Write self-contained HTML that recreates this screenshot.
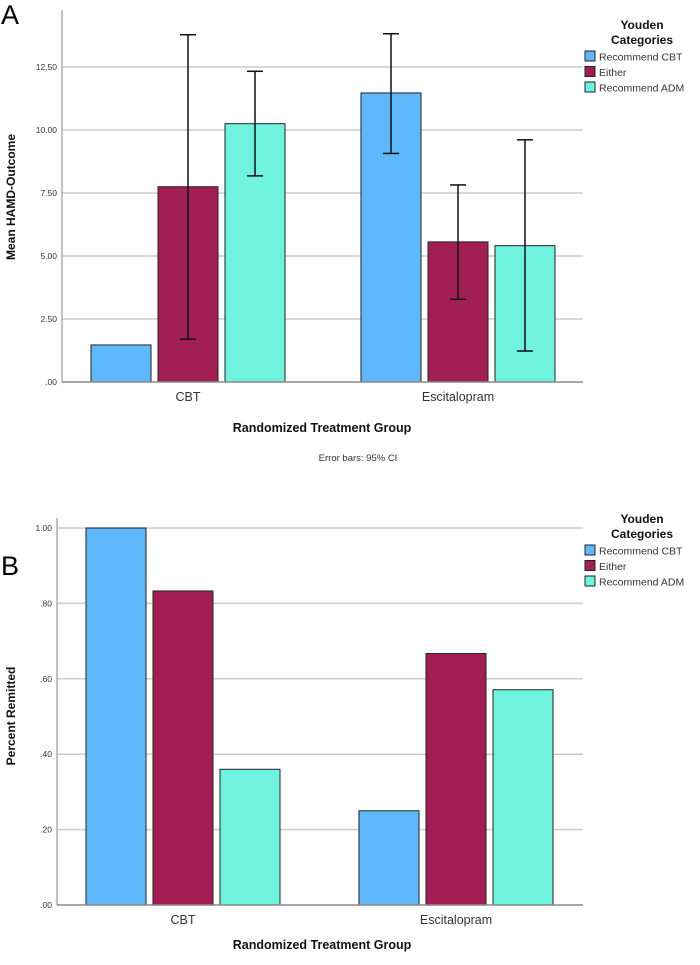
<!DOCTYPE html>
<html><head><meta charset="utf-8"><style>
body{margin:0;background:#fff;width:700px;height:960px;overflow:hidden}
svg{font-family:"Liberation Sans",sans-serif}
</style></head><body>
<svg id="s" width="700" height="960" xmlns="http://www.w3.org/2000/svg"></svg>
<script>
const categories = ["CBT", "Escitalopram"];
const seriesNames = ["Recommend CBT", "Either", "Recommend ADM"];
const colors = ["#5eb8fb", "#a11f54", "#6ff3de"];
const aValues = [[1.47, 11.47], [7.75, 5.56], [10.25, 5.41]];
const aErrLow = [[null, 9.07], [1.70, 3.28], [8.18, 1.23]];
const aErrHigh = [[null, 13.82], [13.78, 7.82], [12.33, 9.61]];
const aTicks = [0, 2.5, 5, 7.5, 10, 12.5];
const aTickLabels = [".00", "2.50", "5.00", "7.50", "10.00", "12.50"];
const bValues = [[1.00, 0.25], [0.833, 0.667], [0.36, 0.571]];
const bTicks = [0, 0.2, 0.4, 0.6, 0.8, 1.0];
const bTickLabels = [".00", ".20", ".40", ".60", ".80", "1.00"];

const NS = "http://www.w3.org/2000/svg";
const svg = document.getElementById("s");
function mk(tag, attrs, parent, text) {
  const e = document.createElementNS(NS, tag);
  for (const k in attrs) e.setAttribute(k, attrs[k]);
  if (text !== undefined) e.textContent = text;
  (parent || svg).appendChild(e);
  return e;
}
function panel(cfg) {
  const g = mk("g", {});
  
  
  const y = v => cfg.base - (v - 0) * cfg.ppu;
  // gridlines + ticks
  cfg.ticks.forEach((t, i) => {
    if (t > 0) {
      const gl = mk("line", {x1: cfg.x0, x2: cfg.x1, y1: y(t), y2: y(t), stroke: "#cccccc", "stroke-width": 1.5}, g);
      
      
    }
    const tl = mk("text", {x: cfg.x0 - 5, y: y(t) + 3, "text-anchor": "end", "font-size": 8.5, fill: "#333"}, g, cfg.tickLabels[i]);
    
    
  });
  const ya = mk("line", {x1: cfg.x0, x2: cfg.x0, y1: cfg.top, y2: cfg.base, stroke: "#999", "stroke-width": 1.2}, g);
  
  
  // bars
  const bw = 60, gap = 7;
  categories.forEach((c, ci) => {
    const cx = cfg.centers[ci];
    cfg.values.forEach((sv, si) => {
      const left = cx - 1.5 * bw - gap + si * (bw + gap);
      const v = sv[ci];
      const r = mk("rect", {x: left, y: y(v), width: bw, height: cfg.base - y(v), fill: colors[si], stroke: "#222", "stroke-width": 1}, g);
      
      
      if (cfg.lo && cfg.lo[si][ci] !== null) {
        const mx = left + bw / 2, lo = y(cfg.lo[si][ci]), hi = y(cfg.hi[si][ci]);
        const eg = mk("g", {stroke: "#111", "stroke-width": 1.5}, g);
        
        
        mk("line", {x1: mx, x2: mx, y1: lo, y2: hi}, eg);
        mk("line", {x1: mx - 8, x2: mx + 8, y1: lo, y2: lo}, eg);
        mk("line", {x1: mx - 8, x2: mx + 8, y1: hi, y2: hi}, eg);
      }
    });
    const cl = mk("text", {x: cx, y: cfg.base + 19, "text-anchor": "middle", "font-size": 12.5, fill: "#333"}, g, c);
    
    
  });
  const xa = mk("line", {x1: cfg.x0, x2: cfg.x1, y1: cfg.base, y2: cfg.base, stroke: "#888", "stroke-width": 1.5}, g);
  
  
  const xt = mk("text", {x: 322, y: cfg.xTitleY, "text-anchor": "middle", "font-size": 12.5, "font-weight": "bold", fill: "#111"}, g, "Randomized Treatment Group");
  
  
  const ytl = mk("text", {x: 0, y: 0, transform: `translate(15,${cfg.yTitleY}) rotate(-90)`, "text-anchor": "middle", "font-size": 12, "font-weight": "bold", fill: "#111"}, g, cfg.yTitle);
  
  
  // legend
  const lg = mk("g", {}, g);
  
  
  mk("text", {x: 642, y: cfg.legY, "text-anchor": "middle", "font-size": 12, "font-weight": "bold", fill: "#111"}, lg, "Youden");
  mk("text", {x: 642, y: cfg.legY + 15, "text-anchor": "middle", "font-size": 12, "font-weight": "bold", fill: "#111"}, lg, "Categories");
  seriesNames.forEach((n, i) => {
    const sy = cfg.legY + 22 + i * 15.5;
    const e = mk("g", {}, lg);
    
    
    mk("rect", {x: 585, y: sy, width: 10, height: 10, fill: colors[i], stroke: "#222", "stroke-width": 1}, e);
    mk("text", {x: 599, y: sy + 9.5, "font-size": 10.5, fill: "#333"}, e, n);
  });
  const letter = mk("text", {x: 1, y: cfg.letterY, "font-size": 27, fill: "#000"}, g, cfg.letter);
  
  
}
panel({name: "panel-a", x0: 62, x1: 583, top: 10, base: 382, ppu: 25.2, ticks: aTicks, tickLabels: aTickLabels,
  values: aValues, lo: aErrLow, hi: aErrHigh, centers: [188, 458], xTitleY: 432, yTitle: "Mean HAMD-Outcome", yTitleY: 197,
  legY: 29, letter: "A", letterY: 24});
panel({name: "panel-b", x0: 57, x1: 583, top: 518, base: 905, ppu: 377, ticks: bTicks, tickLabels: bTickLabels,
  values: bValues, lo: null, hi: null, centers: [183, 456], xTitleY: 949, yTitle: "Percent Remitted", yTitleY: 716,
  legY: 523, letter: "B", letterY: 575});
const eb = mk("text", {x: 358, y: 461, "text-anchor": "middle", "font-size": 9.5, fill: "#333"}, svg, "Error bars: 95% CI");


</script>
</body></html>
